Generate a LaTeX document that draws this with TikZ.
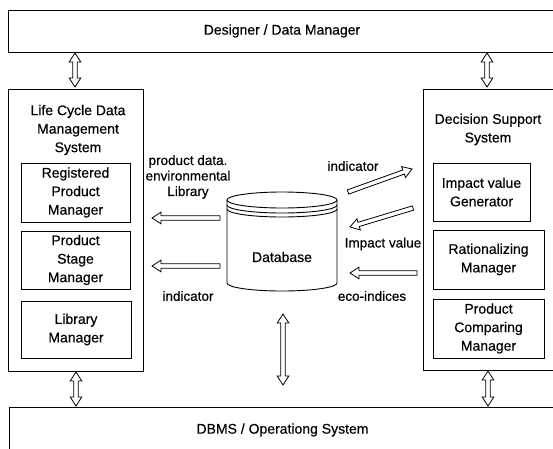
\documentclass[tikz,border=0pt]{standalone}
\usepackage{fontspec}
\setmainfont[FakeBold=0.4]{Liberation Sans}
\usetikzlibrary{calc}
\newcommand\boxfont{\fontsize{14}{18.5}\selectfont}
\newcommand\lblfont{\fontsize{13.5}{15.5}\selectfont}
\tikzset{
  box/.style={draw, line width=0.9pt, rectangle, inner sep=0pt, align=center, font=\boxfont},
  titletext/.style={align=center, font=\boxfont, inner sep=0pt},
  lbl/.style={align=center, font=\lblfont, inner sep=0pt},
  arrowline/.style={line width=0.8pt, fill=white, line join=miter},
  dbline/.style={line width=0.9pt},
}
\newcommand\hollowarrow[2]{%
  \coordinate (hp) at ($(#2)!9pt!(#1)$);
  \draw[arrowline] ($(#1)!2.2pt!90:(#2)$) -- ($(hp)!2.2pt!90:(#2)$) -- ($(hp)!5.8pt!90:(#2)$) -- (#2)
     -- ($(hp)!5.8pt!-90:(#2)$) -- ($(hp)!2.2pt!-90:(#2)$) -- ($(#1)!2.2pt!-90:(#2)$) -- cycle;}
\newcommand\hollowdarrow[2]{%
  \coordinate (hp) at ($(#1)!9pt!(#2)$);
  \coordinate (hq) at ($(#2)!9pt!(#1)$);
  \draw[arrowline] (#1) -- ($(hp)!5.8pt!90:(#2)$) -- ($(hp)!2.2pt!90:(#2)$) -- ($(hq)!2.2pt!90:(#2)$)
     -- ($(hq)!5.8pt!90:(#2)$) -- (#2) -- ($(hq)!5.8pt!-90:(#2)$) -- ($(hq)!2.2pt!-90:(#2)$)
     -- ($(hp)!2.2pt!-90:(#2)$) -- ($(hp)!5.8pt!-90:(#2)$) -- cycle;}
\begin{document}
\begin{tikzpicture}[x=1pt,y=-1pt]
\useasboundingbox (0,0) rectangle (553,448);
\begin{scope}
\clip (0,0) rectangle (553,448);
% main boxes
\node[box, minimum width=548pt, minimum height=42pt] (top) at (282,31) {Designer / Data Manager};
\node[box, minimum width=547pt, minimum height=46pt] (bottom) at (282.5,430) {DBMS / Operationg System};
\node[box, minimum width=135pt, minimum height=282pt] (lcdms) at (75.5,230) {};
\node[box, minimum width=132pt, minimum height=281pt] (dss) at (489,229.5) {};
\node[titletext] (lct) at (78,130) {Life Cycle Data\\Management\\System};
\node[titletext] (dst) at (488,129.5) {Decision Support\\System};
% inner boxes left
\node[box, minimum width=109pt, minimum height=59pt] (reg) at (75.5,192.5) {Registered\\Product\\Manager};
\node[box, minimum width=109pt, minimum height=58pt] (stage) at (75.5,260) {Product\\Stage\\Manager};
\node[box, minimum width=110pt, minimum height=57pt] (lib) at (76,329.5) {Library\\Manager};
% inner boxes right
\node[box, minimum width=97pt, minimum height=58pt] (imp) at (481.5,192) {Impact value\\Generator};
\node[box, minimum width=111pt, minimum height=59pt] (rat) at (488.5,259.5) {Rationalizing\\Manager};
\node[box, minimum width=111pt, minimum height=59pt] (cmp) at (488.5,328.5) {Product\\Comparing\\Manager};
\end{scope}
% database cylinder
\node[minimum width=110pt, minimum height=100pt, inner sep=0pt] (db) at (282,241) {};
\draw[dbline, fill=white] (227,200) -- (227,283) arc[start angle=180, end angle=0, x radius=55, y radius=8] -- (337,200);
\draw[dbline] (282,200) ellipse[x radius=55, y radius=8];
\draw[dbline] (227,205) arc[start angle=180, end angle=0, x radius=55, y radius=8];
\draw[dbline] (227,209) arc[start angle=180, end angle=0, x radius=55, y radius=8];
\node[font=\boxfont] (dbt) at (282,257) {Database};
% labels
\node[lbl] (lab1) at (188,177) {product data.\\environmental\\Library};
\node[lbl] (lab2) at (188,296) {indicator};
\node[lbl] (lab3) at (353,166) {indicator};
\node[lbl] (lab4) at (383,244) {Impact value};
\node[lbl] (lab5) at (372,296) {eco-indices};
% arrow end points
\coordinate (v1a) at (75,53);  \coordinate (v1b) at (75,87);
\coordinate (v2a) at (487,53); \coordinate (v2b) at (487,87);
\coordinate (v3a) at (76,372); \coordinate (v3b) at (76,406);
\coordinate (v4a) at (488,371); \coordinate (v4b) at (488,406);
\coordinate (v5a) at (283,314); \coordinate (v5b) at (283,385);
\coordinate (h1a) at (220,218); \coordinate (h1b) at (152,218);
\coordinate (h2a) at (220,266); \coordinate (h2b) at (152,266);
\coordinate (d1a) at (348,192); \coordinate (d1b) at (412,169);
\coordinate (d2a) at (413,208); \coordinate (d2b) at (350,227);
\coordinate (h3a) at (417,273); \coordinate (h3b) at (350,273);
% arrows
\hollowdarrow{v1a}{v1b}
\hollowdarrow{v2a}{v2b}
\hollowdarrow{v3a}{v3b}
\hollowdarrow{v4a}{v4b}
\hollowdarrow{v5a}{v5b}
\hollowarrow{h1a}{h1b}
\hollowarrow{h2a}{h2b}
\hollowarrow{d1a}{d1b}
\hollowarrow{d2a}{d2b}
\hollowarrow{h3a}{h3b}
\end{tikzpicture}
\end{document}
